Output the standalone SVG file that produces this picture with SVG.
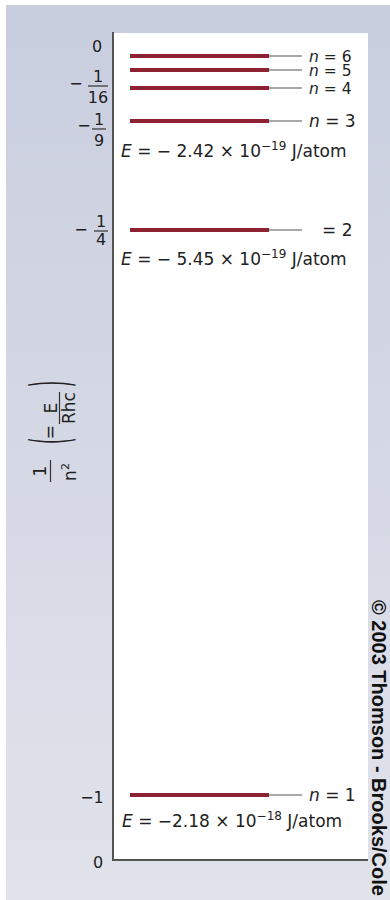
<svg xmlns="http://www.w3.org/2000/svg" width="390" height="900" viewBox="0 0 390 900">
<defs>
<linearGradient id="bg" x1="0" y1="0" x2="0" y2="1">
<stop offset="0" stop-color="#c9cedf"/>
<stop offset="1" stop-color="#e1e3eb"/>
</linearGradient>
<style>
.t{font-family:"DejaVu Sans","Liberation Sans",sans-serif;fill:#222;}
.lab{font-size:17px;}
.nl{font-size:15.5px;}
.tick{font-size:16px;text-anchor:middle;}
.sup{font-size:12px;}
.yl{font-size:17px;text-anchor:middle;}
.lvl{stroke:#8c2232;stroke-width:4;}
.lead{stroke:#555;stroke-width:1.2;}
.axis{stroke:#555;stroke-width:2;fill:none;}
.bar{stroke:#333;stroke-width:1.2;}
.cr{font-family:"Liberation Sans",Arial,sans-serif;font-weight:bold;font-size:20px;fill:#111;}
</style>
</defs>
<rect x="0" y="0" width="390" height="900" fill="#ffffff"/>
<rect x="6" y="5" width="384" height="895" fill="url(#bg)"/>
<rect x="113" y="33" width="255" height="826" fill="#ffffff"/>
<g id="axes">
<path class="axis" d="M113,32 V860 H368"/>
</g>
<g id="ticks">
<text class="t tick" x="97" y="52">0</text>
<g id="tick-16">
<text class="t tick" x="76" y="89">−</text>
<text class="t tick" x="98" y="82">1</text>
<line class="bar" x1="88" y1="86" x2="108" y2="86"/>
<text class="t tick" x="98" y="103">16</text>
</g>
<g id="tick-9">
<text class="t tick" x="84" y="131">−</text>
<text class="t tick" x="99" y="125">1</text>
<line class="bar" x1="92" y1="129" x2="106" y2="129"/>
<text class="t tick" x="99" y="146">9</text>
</g>
<g id="tick-4">
<text class="t tick" x="81" y="235">−</text>
<text class="t tick" x="101" y="227">1</text>
<line class="bar" x1="94" y1="231" x2="108" y2="231"/>
<text class="t tick" x="101" y="245">4</text>
</g>
<text class="t tick" x="92" y="803">−1</text>
<text class="t tick" x="98" y="868">0</text>
</g>
<g id="ylabel">
<text class="t yl" transform="translate(46,471) rotate(-90)">1</text>
<line class="bar" x1="50.5" y1="460" x2="50.5" y2="482"/>
<text class="t yl" transform="translate(76,472) rotate(-90)">n<tspan font-size="11" dy="-7">2</tspan></text>
<text class="t" font-size="16" text-anchor="middle" transform="translate(69,441) rotate(-90) scale(1,3.3)">(</text>
<text class="t yl" transform="translate(56,432) rotate(-90)">=</text>
<text class="t yl" transform="translate(57,408) rotate(-90)">E</text>
<line class="bar" x1="59.5" y1="392" x2="59.5" y2="424"/>
<text class="t yl" transform="translate(75,408) rotate(-90)">Rhc</text>
<text class="t" font-size="16" text-anchor="middle" transform="translate(69,384) rotate(-90) scale(1,3.3)">)</text>
</g>
<g id="level-6">
<line class="lvl" x1="130" y1="56" x2="269" y2="56"/>
<line class="lead" x1="269" y1="56" x2="302" y2="56"/>
<text class="t nl" x="309" y="61.5"><tspan font-style="italic">n</tspan> = 6</text>
</g>
<g id="level-5">
<line class="lvl" x1="130" y1="70" x2="269" y2="70"/>
<line class="lead" x1="269" y1="70" x2="302" y2="70"/>
<text class="t nl" x="309" y="75.5"><tspan font-style="italic">n</tspan> = 5</text>
</g>
<g id="level-4">
<line class="lvl" x1="130" y1="88" x2="269" y2="88"/>
<line class="lead" x1="269" y1="88" x2="302" y2="88"/>
<text class="t nl" x="309" y="93.5"><tspan font-style="italic">n</tspan> = 4</text>
</g>
<g id="level-3">
<line class="lvl" x1="130" y1="121" x2="269" y2="121"/>
<line class="lead" x1="269" y1="121" x2="302" y2="121"/>
<text class="t lab" x="309" y="127"><tspan font-style="italic">n</tspan> = 3</text>
<text class="t lab" x="121" y="157"><tspan font-style="italic">E</tspan> = − 2.42 × 10<tspan class="sup" dy="-7">−19</tspan><tspan dy="7"> J/atom</tspan></text>
</g>
<g id="level-2">
<line class="lvl" x1="130" y1="230" x2="269" y2="230"/>
<line class="lead" x1="269" y1="230" x2="302" y2="230"/>
<text class="t lab" x="322" y="236">= 2</text>
<text class="t lab" x="121" y="265"><tspan font-style="italic">E</tspan> = − 5.45 × 10<tspan class="sup" dy="-7">−19</tspan><tspan dy="7"> J/atom</tspan></text>
</g>
<g id="level-1">
<line class="lvl" x1="130" y1="795" x2="269" y2="795"/>
<line class="lead" x1="269" y1="795" x2="302" y2="795"/>
<text class="t lab" x="309" y="801"><tspan font-style="italic">n</tspan> = 1</text>
<text class="t lab" x="122" y="827"><tspan font-style="italic">E</tspan> = −2.18 × 10<tspan class="sup" dy="-7">−18</tspan><tspan dy="7"> J/atom</tspan></text>
</g>
<text class="cr" transform="translate(372,600) rotate(90)">© 2003 Thomson - Brooks/Cole</text>
</svg>
